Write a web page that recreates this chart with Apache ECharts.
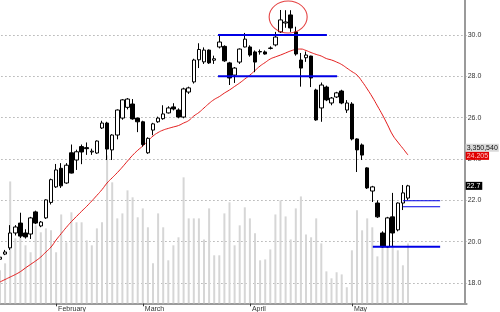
<!DOCTYPE html>
<html><head><meta charset="utf-8">
<script src="https://cdn.jsdelivr.net/npm/echarts@6/dist/echarts.min.js"></script>
<style>html,body{margin:0;padding:0;background:#fff}#c{width:500px;height:312px}</style>
</head><body><div id="c"></div>
<script>
// ---- data ----
const opens  = [19.15,19.4,19.70,20.42,20.9,20.42,20.37,21.44,20.76,21.15,21.9,22.65,23.55,22.84,24.3,23.95,24.6,24.55,24.34,24.29,25.5,25.74,24.44,25.16,25.98,26.5,26.66,25.98,25.8,24.3,25.4,25.8,25.95,26.23,26.52,26.37,26.03,27.24,27.73,28.8,28.7,29.27,28.78,29.42,29.45,28.65,28.06,28.69,29.42,29.42,29.18,29.2,29.18,29.35,29.52,30.15,30.58,30.97,30.15,28.79,28.9,28.98,27.34,26.47,27.48,26.71,27.0,27.29,26.37,26.66,24.97,24.68,23.57,22.45,21.87,20.42,19.74,21.2,20.57,21.87,22.11];
const closes = [19.25,19.5,20.42,20.71,20.27,20.23,21.15,20.9,20.95,22.02,23.0,23.47,22.7,23.7,23.32,24.35,24.34,24.5,24.38,24.87,25.74,24.48,25.16,26.37,26.86,26.9,25.94,25.8,24.7,25.0,25.7,25.98,26.18,26.47,26.42,26.03,27.39,27.44,28.79,29.3,29.27,28.65,28.85,29.66,28.75,27.92,28.4,29.32,29.8,29.03,28.69,29.18,29.08,29.37,29.9,30.73,30.63,30.34,29.08,28.4,29.03,27.92,25.89,27.58,26.86,26.95,27.2,26.71,26.71,24.97,24.44,24.19,22.6,22.65,21.2,19.74,21.15,20.42,21.87,22.36,22.7];
const lows   = [19.05,19.35,19.6,20.3,20.18,20.15,20.13,20.85,20.7,21.1,21.8,22.6,22.6,22.8,23.3,23.47,23.75,24.2,24.2,24.25,25.45,23.95,23.95,24.95,25.9,26.4,25.9,25.3,24.6,24.25,25.15,25.75,25.9,26.2,26.35,25.97,25.97,27.15,27.65,28.4,28.6,28.6,28.6,29.35,28.7,27.58,27.68,28.6,29.4,28.95,28.2,29.05,29.05,29.3,29.45,30.1,30.35,30.15,29.0,27.5,28.7,27.48,25.85,25.8,26.8,26.6,26.95,26.65,26.23,24.9,23.37,23.95,22.55,21.92,21.15,19.7,19.7,19.74,20.5,21.53,22.0];
const highs  = [19.35,19.6,20.8,20.8,21.4,20.6,21.2,21.5,21.0,22.05,23.05,23.76,23.8,23.8,24.7,24.45,24.7,24.8,24.5,24.9,25.85,25.8,25.2,26.4,26.9,26.95,26.9,26.0,25.85,25.05,25.75,26.05,26.6,26.55,26.7,26.45,27.45,27.5,28.85,29.6,29.4,29.3,29.0,30.05,29.5,28.7,28.45,29.35,30.1,29.5,29.25,29.3,29.25,29.45,30.15,31.21,31.2,31.2,30.4,29.13,29.2,29.0,27.4,27.7,27.55,27.0,27.25,27.35,26.85,26.75,25.0,24.75,23.6,22.7,22.0,20.5,21.2,22.36,21.9,22.74,22.75];
const volumes = [1.85,2.24,6.83,3.64,4.20,3.25,2.86,4.37,3.98,4.20,4.09,2.86,4.98,3.42,5.10,4.54,4.54,3.53,3.25,4.20,4.54,8.29,6.78,4.76,5.04,6.33,5.94,4.82,5.32,4.26,2.24,5.04,4.26,2.41,3.25,3.70,7.06,4.76,4.76,4.76,3.58,5.32,2.69,2.69,5.04,5.66,3.25,4.37,5.38,4.76,3.92,2.41,2.46,3.02,4.98,5.77,4.87,3.58,5.32,5.99,3.86,3.70,4.76,3.36,1.79,1.40,1.74,1.62,0.90,2.97,5.21,4.09,4.76,4.26,2.63,3.81,4.37,3.25,2.97,2.13,3.35];
const movingAvg = [18.05,18.17,18.29,18.41,18.55,18.73,18.90,19.07,19.26,19.50,19.74,20.08,20.39,20.69,20.97,21.22,21.47,21.71,21.97,22.24,22.52,22.84,23.09,23.34,23.61,23.90,24.18,24.42,24.63,24.87,25.11,25.28,25.40,25.48,25.55,25.62,25.74,25.86,26.08,26.25,26.47,26.69,26.88,27.02,27.19,27.34,27.51,27.68,27.87,28.06,28.28,28.50,28.67,28.84,28.94,29.03,29.13,29.23,29.30,29.32,29.25,29.15,29.06,28.98,28.86,28.79,28.69,28.57,28.40,28.23,28.06,27.75,27.39,27.00,26.57,26.13,25.65,25.16,24.82,24.51,24.19];
const slotCount = 92;
const monthIdx = [11, 28, 49, 69];
const monthNames = ['February', 'March', 'April', 'May'];
const priceTicks = [18, 20, 22, 24, 26, 28, 30];
const levelPrices = [30.0, 28.0, 19.76, 21.98, 21.69];
const levelFrom   = [42.75, 42.75, 73.1, 79, 79];
const levelTo     = [64.1, 66.1, 86.3, 86.3, 86.3];
const levelWidths = [2, 2, 2, 1, 1];
const circleAt = [56.5, 30.87];
const lastVolumeText = '3,350,540';
const lastMAText = '24.205';
const lastMAValue = 24.205;
const lastCloseText = '22.7';
const lastCloseValue = 22.7;

const categories = Array.from({length: slotCount}, (_, i) => 'd' + i);
const candleData = opens.map((o, i) => [o, closes[i], lows[i], highs[i]]);

const chart = echarts.init(document.getElementById('c'), null, {renderer: 'canvas'});
const FONT = 'Liberation Sans';
const gridL = -2.55, slotW = 5.1;
const gridRight = 500 - (gridL + slotCount * slotW);

const levelSeries = levelPrices.map((p, k) => ({
  type: 'line', xAxisIndex: 2, yAxisIndex: 0, silent: true, symbol: 'none', z: 6,
  data: [[levelFrom[k], p], [levelTo[k], p]],
  lineStyle: {color: '#0000e6', width: levelWidths[k]}
}));

chart.setOption({
  animation: false,
  backgroundColor: '#fff',
  grid: [
    {left: gridL, right: gridRight, top: 35 - 2 * 20.67, bottom: 312 - 283, outerBoundsMode: 'none', containLabel: false},
    {left: gridL, right: gridRight, top: 0, bottom: 312 - 303.3, outerBoundsMode: 'none', containLabel: false}
  ],
  xAxis: [
    {type: 'category', gridIndex: 0, data: categories, show: false},
    {type: 'category', gridIndex: 1, data: categories,
      axisLine: {lineStyle: {color: '#9a9a9a', width: 2}},
      axisTick: {show: true, length: 3, alignWithLabel: true, interval: (i) => monthIdx.includes(i), lineStyle: {color: '#333'}},
      axisLabel: {interval: (i) => monthIdx.includes(i), formatter: (v, i) => monthNames[monthIdx.indexOf(i)] || '',
        align: 'left', fontSize: 7, color: '#333', margin: 2, padding: [0, 0, 0, 2], fontFamily: FONT},
      splitLine: {show: false}},
    {type: 'value', gridIndex: 0, min: -0.5, max: slotCount - 0.5, show: false}
  ],
  yAxis: [
    {type: 'value', gridIndex: 0, position: 'right', offset: -2, min: 18, max: 32, interval: 2,
      axisLine: {show: false}, axisTick: {show: false},
      axisLabel: {fontSize: 7, color: '#333', margin: 3, fontFamily: FONT, showMaxLabel: false,
        formatter: (v) => priceTicks.includes(v) ? v.toFixed(1) : ''},
      splitLine: {show: true, lineStyle: {color: '#8a8a8a', type: [1, 3], width: 1}}},
    {type: 'value', gridIndex: 1, position: 'right', offset: -2, min: 0, max: 17,
      axisLine: {show: true, lineStyle: {color: '#9a9a9a', width: 2}},
      axisTick: {show: false}, axisLabel: {show: false}, splitLine: {show: false}}
  ],
  series: [
    {type: 'bar', xAxisIndex: 1, yAxisIndex: 1, data: volumes, barWidth: 2, silent: true, z: 1,
      itemStyle: {color: '#d6d6d6'}},
    {type: 'line', xAxisIndex: 0, yAxisIndex: 0, data: movingAvg, smooth: true, symbol: 'none', z: 3, clip: false,
      lineStyle: {color: '#e41b1b', width: 1},
      markLine: {silent: true, symbol: 'none', lineStyle: {width: 0, color: 'transparent'},
        data: [{yAxis: lastMAValue}],
        label: {position: 'end', distance: -1, padding: [0, 0, 6, 0],
          formatter: () => '{v|' + lastVolumeText + '}\n{m|' + lastMAText + '}',
          rich: {
            v: {backgroundColor: '#d9d9d9', color: '#111', fontSize: 7, fontFamily: FONT, padding: [1, 1, 0, 1], lineHeight: 8},
            m: {backgroundColor: '#e00000', color: '#ffc4c4', fontSize: 7, fontFamily: FONT, padding: [1, 1, 0, 1], lineHeight: 8}
          }}}},
    {type: 'candlestick', xAxisIndex: 0, yAxisIndex: 0, data: candleData, barWidth: 4, z: 4, clip: false,
      itemStyle: {color: '#ffffff', color0: '#000000', borderColor: '#000000', borderColor0: '#000000', borderWidth: 1},
      markLine: {silent: true, symbol: 'none', lineStyle: {width: 0, color: 'transparent'},
        data: [{yAxis: lastCloseValue}],
        label: {position: 'end', distance: -1, formatter: lastCloseText,
          backgroundColor: '#000', color: '#fff', fontSize: 7, fontFamily: FONT, padding: [1, 2, 0, 1]}}},
    ...levelSeries,
    {type: 'scatter', xAxisIndex: 2, yAxisIndex: 0, data: [circleAt], symbol: 'circle', symbolSize: [38, 32], z: 7, silent: true,
      itemStyle: {color: 'rgba(0,0,0,0)', borderColor: '#dd1111', borderWidth: 1}}
  ]
});
</script></body></html>
